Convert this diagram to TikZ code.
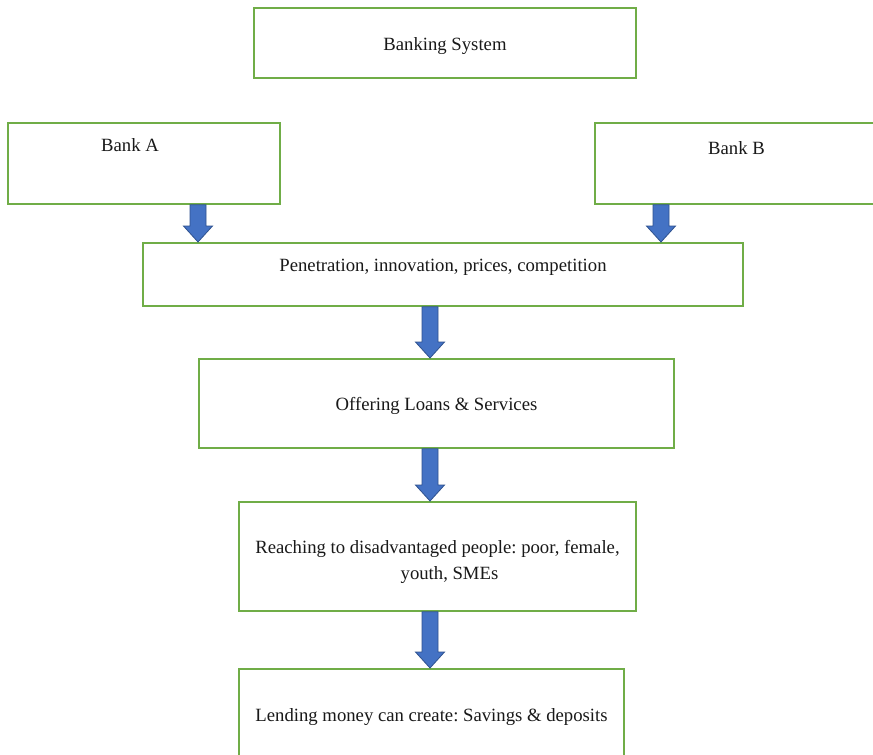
\documentclass[tikz,border=0pt]{standalone}
\usepackage{fontspec}
\setmainfont{Liberation Serif}
\usetikzlibrary{calc}
\frenchspacing
\definecolor{boxgreen}{HTML}{70AD47}
\definecolor{arrowfill}{HTML}{4472C4}
\definecolor{arrowedge}{HTML}{2F528F}
\tikzset{
  flowbox/.style={draw=boxgreen, line width=1.8pt, fill=white, inner sep=0pt,
    anchor=north, font=\fontsize{18.7}{26}\selectfont, text=black!90},
  barrow/.style={fill=arrowfill, draw=arrowedge, line width=0.8pt, line join=miter}
}
% block arrow from one point straight down to another
\newcommand\blockarrow[2]{%
  \path[barrow] let \p1=(#1), \p2=(#2) in
    (\x1-8pt,\y1) -- (\x1+8pt,\y1) -- (\x1+8pt,\y2+16pt) -- (\x1+14.5pt,\y2+16pt)
    -- (\x1,\y2) -- (\x1-14.5pt,\y2+16pt) -- (\x1-8pt,\y2+16pt) -- cycle;}
\begin{document}
\begin{tikzpicture}[x=1pt, y=-1pt]
  \useasboundingbox (0,0) rectangle (873,755);
  \fill[white] (0,0) rectangle (873,755);
  \clip (0,0) rectangle (873,755);

  \node[flowbox, minimum width=382pt, text height=43pt, text depth=27pt] (sys) at (445,7) {Banking System};
  \node[flowbox, minimum width=272pt, text height=29pt, text depth=52pt] (bankA) at (144,122) {Bank A\hspace*{28pt}};
  \node[flowbox, minimum width=283pt, text height=32pt, text depth=49pt] (bankB) at (736.5,122) {Bank B};
  \node[flowbox, minimum width=600pt, text height=29pt, text depth=34pt] (pen) at (443,242) {Penetration, innovation, prices, competition};
  \node[flowbox, minimum width=475pt, text height=52pt, text depth=37pt] (off) at (436.5,358) {Offering Loans \& Services};
  \node[flowbox, minimum width=397pt, minimum height=109pt, align=center] (reach) at (437.5,501)
    {\rule{0pt}{24pt}Reaching to disadvantaged people: poor, female,\\ \hspace*{24pt}youth, SMEs};
  \node[flowbox, minimum width=385pt, text height=53pt, text depth=69pt] (lend) at (431.5,668) {Lending money can create: Savings \& deposits};

  \coordinate (ax) at (198,0);
  \coordinate (bx) at (661,0);
  \coordinate (mx) at (430,0);

  \blockarrow{bankA.south -| ax}{pen.north -| ax}
  \blockarrow{bankB.south -| bx}{pen.north -| bx}
  \blockarrow{pen.south -| mx}{off.north -| mx}
  \blockarrow{off.south -| mx}{reach.north -| mx}
  \blockarrow{reach.south -| mx}{lend.north -| mx}
\end{tikzpicture}
\end{document}
